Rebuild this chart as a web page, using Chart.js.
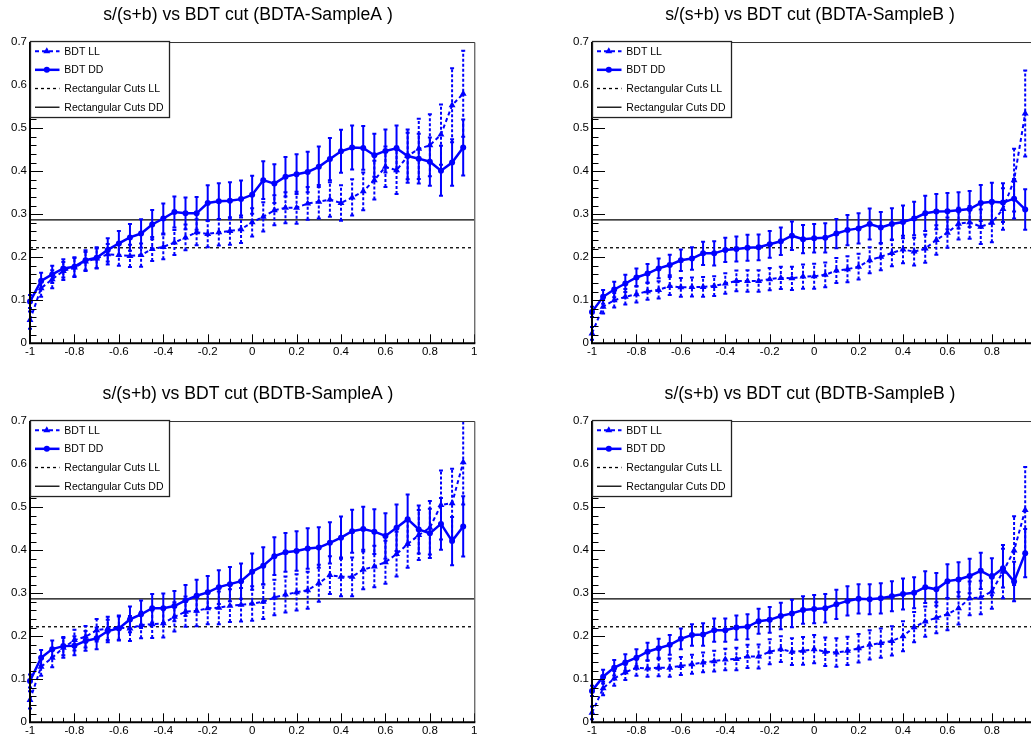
<!DOCTYPE html>
<html>
<head>
<meta charset="utf-8">
<title>s/(s+b) vs BDT cut</title>
<script src="https://cdn.jsdelivr.net/npm/chart.js@4.4.1/dist/chart.umd.min.js"></script>
<style>
  html, body { margin: 0; padding: 0; background: #fff; }
  body { width: 1031px; height: 738px; overflow: hidden; position: relative; }
  canvas { position: absolute; }
</style>
</head>
<body>
<canvas id="pad1" width="494" height="364" style="left:0px;top:0px"></canvas>
<canvas id="pad2" width="504" height="364" style="left:562px;top:0px"></canvas>
<canvas id="pad3" width="494" height="364" style="left:0px;top:379px"></canvas>
<canvas id="pad4" width="504" height="364" style="left:562px;top:379px"></canvas>
<script>
(function () {
  'use strict';

  // BDT cut (x)
  const bdtCuts = [-1, -0.95, -0.9, -0.85, -0.8, -0.75, -0.7, -0.65, -0.6, -0.55,
    -0.5, -0.45, -0.4, -0.35, -0.3, -0.25, -0.2, -0.15, -0.1, -0.05,
    0, 0.05, 0.1, 0.15, 0.2, 0.25, 0.3, 0.35, 0.4, 0.45,
    0.5, 0.55, 0.6, 0.65, 0.7, 0.75, 0.8, 0.85, 0.9, 0.95];

  const xTickValues = [-1, -0.8, -0.6, -0.4, -0.2, 0, 0.2, 0.4, 0.6, 0.8, 1];
  const xTickLabels = ['-1', '-0.8', '-0.6', '-0.4', '-0.2', '0', '0.2', '0.4', '0.6', '0.8', '1'];
  const yTickValues = [0, 0.1, 0.2, 0.3, 0.4, 0.5, 0.6, 0.7];
  const yTickLabels = ['0', '0.1', '0.2', '0.3', '0.4', '0.5', '0.6', '0.7'];

  // rectangular cuts reference
  const rectCutLL = 0.222;
  const rectCutDD = 0.287;

  const legendLabels = ['BDT LL', 'BDT DD', 'Rectangular Cuts LL', 'Rectangular Cuts DD'];

  // BDTA-SampleA
  const aA_DD = [0.097, 0.145, 0.16, 0.174, 0.178, 0.193, 0.199, 0.217, 0.232, 0.246,
    0.255, 0.276, 0.29, 0.305, 0.302, 0.302, 0.326, 0.33, 0.331, 0.335,
    0.345, 0.379, 0.371, 0.387, 0.393, 0.398, 0.41, 0.428, 0.446, 0.455,
    0.454, 0.437, 0.447, 0.453, 0.435, 0.429, 0.422, 0.401, 0.42, 0.455];
  const aA_DDErr = [0.015, 0.019, 0.02, 0.021, 0.022, 0.023, 0.024, 0.027, 0.029, 0.031,
    0.033, 0.034, 0.035, 0.036, 0.037, 0.038, 0.041, 0.042, 0.043, 0.043,
    0.044, 0.044, 0.045, 0.046, 0.046, 0.047, 0.047, 0.049, 0.05, 0.051,
    0.051, 0.05, 0.05, 0.053, 0.062, 0.058, 0.056, 0.058, 0.054, 0.065];
  const aA_LL = [0.054, 0.128, 0.149, 0.168, 0.176, 0.19, 0.197, 0.207, 0.205, 0.203,
    0.205, 0.219, 0.224, 0.234, 0.246, 0.258, 0.254, 0.258, 0.261, 0.265,
    0.281, 0.294, 0.309, 0.315, 0.315, 0.325, 0.329, 0.334, 0.326, 0.339,
    0.353, 0.379, 0.41, 0.402, 0.435, 0.452, 0.46, 0.485, 0.553, 0.58];
  const aA_LLErr = [0.02, 0.02, 0.021, 0.021, 0.022, 0.022, 0.023, 0.024, 0.025, 0.026,
    0.027, 0.028, 0.029, 0.029, 0.03, 0.03, 0.031, 0.031, 0.032, 0.032,
    0.033, 0.034, 0.035, 0.036, 0.037, 0.038, 0.039, 0.04, 0.041, 0.042,
    0.044, 0.045, 0.047, 0.055, 0.054, 0.07, 0.072, 0.07, 0.086, 0.1];

  // BDTA-SampleB
  const aB_DD = [0.073, 0.108, 0.125, 0.139, 0.153, 0.162, 0.174, 0.182, 0.193, 0.197,
    0.209, 0.209, 0.217, 0.219, 0.222, 0.223, 0.23, 0.237, 0.25, 0.242,
    0.244, 0.245, 0.255, 0.263, 0.267, 0.277, 0.269, 0.277, 0.282, 0.29,
    0.302, 0.306, 0.307, 0.309, 0.312, 0.326, 0.329, 0.327, 0.336, 0.311];
  const aB_DDErr = [0.012, 0.016, 0.018, 0.02, 0.021, 0.022, 0.023, 0.024, 0.025, 0.026,
    0.027, 0.028, 0.028, 0.029, 0.03, 0.03, 0.031, 0.032, 0.033, 0.033,
    0.033, 0.034, 0.034, 0.035, 0.035, 0.036, 0.036, 0.037, 0.038, 0.039,
    0.041, 0.041, 0.042, 0.042, 0.042, 0.042, 0.044, 0.045, 0.046, 0.047];
  const aB_LL = [0.023, 0.085, 0.1, 0.108, 0.114, 0.121, 0.124, 0.133, 0.13, 0.131,
    0.131, 0.133, 0.139, 0.145, 0.145, 0.145, 0.149, 0.152, 0.151, 0.155,
    0.156, 0.159, 0.169, 0.172, 0.178, 0.193, 0.201, 0.21, 0.218, 0.213,
    0.22, 0.24, 0.257, 0.278, 0.281, 0.271, 0.28, 0.312, 0.379, 0.534];
  const aB_LLErr = [0.015, 0.016, 0.017, 0.018, 0.019, 0.02, 0.02, 0.021, 0.022, 0.022,
    0.023, 0.023, 0.024, 0.024, 0.025, 0.025, 0.026, 0.026, 0.027, 0.028,
    0.029, 0.029, 0.029, 0.03, 0.03, 0.03, 0.031, 0.031, 0.032, 0.032,
    0.033, 0.034, 0.035, 0.037, 0.038, 0.04, 0.045, 0.048, 0.073, 0.1];

  // BDTB-SampleA
  const bA_DD = [0.096, 0.15, 0.17, 0.177, 0.178, 0.189, 0.195, 0.212, 0.218, 0.239,
    0.251, 0.265, 0.265, 0.27, 0.283, 0.294, 0.302, 0.314, 0.321, 0.328,
    0.35, 0.364, 0.386, 0.395, 0.398, 0.404, 0.406, 0.417, 0.429, 0.444,
    0.449, 0.443, 0.433, 0.452, 0.472, 0.448, 0.439, 0.461, 0.421, 0.455];
  const bA_DDErr = [0.015, 0.018, 0.02, 0.021, 0.022, 0.023, 0.025, 0.026, 0.028, 0.03,
    0.032, 0.033, 0.034, 0.035, 0.036, 0.037, 0.038, 0.039, 0.04, 0.041,
    0.042, 0.043, 0.044, 0.045, 0.046, 0.047, 0.047, 0.048, 0.049, 0.05,
    0.052, 0.052, 0.053, 0.054, 0.057, 0.056, 0.057, 0.06, 0.056, 0.07];
  const bA_LL = [0.052, 0.129, 0.15, 0.173, 0.191, 0.199, 0.214, 0.218, 0.22, 0.218,
    0.226, 0.228, 0.23, 0.245, 0.257, 0.259, 0.265, 0.266, 0.271, 0.273,
    0.276, 0.28, 0.29, 0.297, 0.302, 0.307, 0.323, 0.342, 0.338, 0.338,
    0.355, 0.362, 0.372, 0.391, 0.414, 0.435, 0.452, 0.505, 0.509, 0.604];
  const bA_LLErr = [0.02, 0.021, 0.022, 0.023, 0.024, 0.025, 0.026, 0.027, 0.028, 0.029,
    0.031, 0.032, 0.033, 0.034, 0.035, 0.036, 0.037, 0.038, 0.038, 0.039,
    0.04, 0.04, 0.041, 0.042, 0.042, 0.043, 0.043, 0.044, 0.045, 0.045,
    0.046, 0.048, 0.05, 0.052, 0.055, 0.058, 0.062, 0.08, 0.08, 0.098];

  // BDTB-SampleB
  const bB_DD = [0.073, 0.106, 0.127, 0.139, 0.15, 0.164, 0.172, 0.18, 0.194, 0.203,
    0.204, 0.214, 0.214, 0.22, 0.222, 0.235, 0.238, 0.247, 0.253, 0.261,
    0.263, 0.265, 0.274, 0.282, 0.287, 0.286, 0.288, 0.293, 0.298, 0.301,
    0.314, 0.309, 0.328, 0.332, 0.34, 0.352, 0.338, 0.358, 0.327, 0.393];
  const bB_DDErr = [0.012, 0.016, 0.018, 0.019, 0.02, 0.021, 0.022, 0.023, 0.024, 0.025,
    0.026, 0.027, 0.027, 0.028, 0.029, 0.029, 0.03, 0.031, 0.032, 0.032,
    0.033, 0.033, 0.034, 0.034, 0.034, 0.035, 0.035, 0.035, 0.036, 0.036,
    0.037, 0.038, 0.039, 0.04, 0.04, 0.042, 0.043, 0.045, 0.046, 0.056];
  const bB_LL = [0.022, 0.079, 0.102, 0.116, 0.127, 0.125, 0.127, 0.127, 0.131, 0.135,
    0.139, 0.142, 0.146, 0.147, 0.153, 0.153, 0.164, 0.17, 0.164, 0.166,
    0.17, 0.164, 0.162, 0.166, 0.172, 0.18, 0.184, 0.189, 0.2, 0.221,
    0.234, 0.243, 0.251, 0.265, 0.288, 0.29, 0.304, 0.35, 0.399, 0.493];
  const bB_LLErr = [0.015, 0.016, 0.017, 0.018, 0.019, 0.019, 0.02, 0.021, 0.021, 0.022,
    0.023, 0.024, 0.025, 0.026, 0.027, 0.028, 0.029, 0.03, 0.031, 0.032,
    0.033, 0.033, 0.033, 0.033, 0.033, 0.034, 0.034, 0.034, 0.035, 0.035,
    0.035, 0.036, 0.037, 0.038, 0.039, 0.039, 0.04, 0.062, 0.08, 0.1];

  const BLUE = 'rgb(0, 0, 255)';
  const FONT = '"Liberation Sans", Arial, Helvetica, sans-serif';

  Chart.defaults.font.family = FONT;
  Chart.defaults.color = '#000';

  function toPoints(values) {
    return bdtCuts.map((x, i) => ({ x: x, y: values[i] }));
  }

  function flatLine(value) {
    return [{ x: xTickValues[0], y: value }, { x: xTickValues[xTickValues.length - 1], y: value }];
  }

  // error bars, drawn right after their own dataset
  const errorBarPlugin = {
    id: 'errorBars',
    afterDatasetDraw(chart, args) {
      const ds = chart.data.datasets[args.index];
      if (!ds.errors) return;
      const { ctx, chartArea: a } = chart;
      const xs = chart.scales.x, ys = chart.scales.y;
      ctx.save();
      ctx.beginPath();
      ctx.rect(a.left - 5, a.top, a.right - a.left + 10, a.bottom - a.top);
      ctx.clip();
      ctx.strokeStyle = ds.borderColor;
      ctx.lineWidth = 2;
      ctx.setLineDash(ds.errorDash || []);
      ds.data.forEach((p, i) => {
        const e = ds.errors[i];
        const px = xs.getPixelForValue(p.x);
        ctx.beginPath();
        ctx.moveTo(px, ys.getPixelForValue(p.y - e));
        ctx.lineTo(px, ys.getPixelForValue(p.y + e));
        ctx.stroke();
      });
      ctx.setLineDash([]);
      ds.data.forEach((p, i) => {
        const e = ds.errors[i];
        const px = xs.getPixelForValue(p.x);
        [p.y - e, p.y + e].forEach(v => {
          const py = ys.getPixelForValue(v);
          ctx.beginPath();
          ctx.moveTo(px - 2, py);
          ctx.lineTo(px + 2, py);
          ctx.stroke();
        });
      });
      ctx.restore();
    }
  };

  function drawMarker(ctx, style, x, y, r) {
    ctx.beginPath();
    if (style === 'triangle') {
      ctx.moveTo(x, y - r);
      ctx.lineTo(x + r * 0.87, y + r * 0.5);
      ctx.lineTo(x - r * 0.87, y + r * 0.5);
      ctx.closePath();
    } else {
      ctx.arc(x, y, r, 0, Math.PI * 2);
    }
    ctx.fill();
  }

  // ROOT-like frame: title offset, inner ticks, axis lines and the boxed legend
  const framePlugin = {
    id: 'rootFrame',
    afterLayout(chart) {
      const t = chart.titleBlock;
      const w = t.right - t.left;
      const c = chart.chartArea.left + 218;
      t.left = c - w / 2;
      t.right = c + w / 2;
    },
    afterDraw(chart) {
      const { ctx, chartArea: a } = chart;
      const xs = chart.scales.x, ys = chart.scales.y;
      ctx.save();
      ctx.strokeStyle = '#000';
      ctx.lineWidth = 1;
      ctx.beginPath();
      for (let i = 0; i < xTickValues.length; i++) {
        const px = Math.round(xs.getPixelForValue(xTickValues[i])) + 0.5;
        ctx.moveTo(px, a.bottom);
        ctx.lineTo(px, a.bottom - 9);
        if (i < xTickValues.length - 1) {
          const step = (xTickValues[i + 1] - xTickValues[i]) / 4;
          for (let k = 1; k < 4; k++) {
            const mx = Math.round(xs.getPixelForValue(xTickValues[i] + k * step)) + 0.5;
            ctx.moveTo(mx, a.bottom);
            ctx.lineTo(mx, a.bottom - 4.5);
          }
        }
      }
      for (let i = 0; i < yTickValues.length; i++) {
        const py = Math.round(ys.getPixelForValue(yTickValues[i])) + 0.5;
        ctx.moveTo(a.left, py);
        ctx.lineTo(a.left + 13, py);
        if (i < yTickValues.length - 1) {
          const step = (yTickValues[i + 1] - yTickValues[i]) / 5;
          for (let k = 1; k < 5; k++) {
            const my = Math.round(ys.getPixelForValue(yTickValues[i] + k * step)) + 0.5;
            ctx.moveTo(a.left, my);
            ctx.lineTo(a.left + 6.5, my);
          }
        }
      }
      ctx.stroke();

      // frame
      ctx.lineWidth = 1;
      ctx.strokeStyle = '#333';
      ctx.beginPath();
      ctx.moveTo(a.left, a.top + 0.5);
      ctx.lineTo(a.right + 0.5, a.top + 0.5);
      ctx.lineTo(a.right + 0.5, a.bottom);
      ctx.stroke();
      ctx.lineWidth = 2;
      ctx.strokeStyle = '#000';
      ctx.beginPath();
      ctx.moveTo(a.left, a.top);
      ctx.lineTo(a.left, a.bottom);
      ctx.lineTo(a.right + 1, a.bottom);
      ctx.stroke();

      // legend box
      const lx = a.left, ly = a.top - 1, lw = 139, lh = 76;
      ctx.fillStyle = '#fff';
      ctx.fillRect(lx, ly, lw, lh);
      ctx.lineWidth = 1.3;
      ctx.strokeStyle = '#222';
      ctx.strokeRect(lx + 0.5, ly + 0.5, lw, lh);

      const rows = [10.3, 28.8, 47.5, 66.2];
      const entries = [chart.data.datasets[1], chart.data.datasets[0], chart.data.datasets[3], chart.data.datasets[2]];
      ctx.font = '10.5px ' + FONT;
      ctx.textBaseline = 'middle';
      ctx.textAlign = 'left';
      entries.forEach((ds, i) => {
        const y = ly + rows[i];
        ctx.strokeStyle = ds.borderColor;
        ctx.lineWidth = ds.borderWidth;
        ctx.setLineDash(ds.borderDash || []);
        ctx.beginPath();
        ctx.moveTo(lx + 5, y);
        ctx.lineTo(lx + 29.5, y);
        ctx.stroke();
        ctx.setLineDash([]);
        if (ds.pointRadius) {
          ctx.fillStyle = ds.borderColor;
          drawMarker(ctx, ds.pointStyle, lx + 16.8, y, ds.pointRadius);
        }
        ctx.fillStyle = '#000';
        ctx.fillText(legendLabels[i], lx + 34.3, y + 0.5);
      });
      ctx.restore();
    }
  };

  function makePad(canvasId, titleText, ddValues, ddErrors, llValues, llErrors, rightPad) {
    const ctx = document.getElementById(canvasId).getContext('2d');
    return new Chart(ctx, {
      type: 'line',
      data: {
        datasets: [
          {
            label: legendLabels[1],
            data: toPoints(ddValues),
            errors: ddErrors,
            borderColor: BLUE,
            backgroundColor: BLUE,
            borderWidth: 2.5,
            pointStyle: 'circle',
            pointRadius: 3,
            pointBorderWidth: 0,
            tension: 0,
            clip: 8
          },
          {
            label: legendLabels[0],
            data: toPoints(llValues),
            errors: llErrors,
            errorDash: [3, 2],
            borderColor: BLUE,
            backgroundColor: BLUE,
            borderWidth: 2,
            borderDash: [4, 3],
            pointStyle: 'triangle',
            pointRadius: 4,
            pointBorderWidth: 0,
            tension: 0,
            clip: 8
          },
          {
            label: legendLabels[3],
            data: flatLine(rectCutDD),
            borderColor: '#000',
            borderWidth: 1.3,
            pointRadius: 0
          },
          {
            label: legendLabels[2],
            data: flatLine(rectCutLL),
            borderColor: '#000',
            borderWidth: 1.3,
            borderDash: [3, 3],
            pointRadius: 0
          }
        ]
      },
      options: {
        responsive: false,
        animation: false,
        devicePixelRatio: 1,
        events: [],
        layout: { padding: { left: 0, right: rightPad, top: 0, bottom: 0 } },
        plugins: {
          legend: { display: false },
          tooltip: { enabled: false },
          title: {
            display: true,
            text: titleText,
            color: '#000',
            font: { family: FONT, size: 17.6, weight: 'normal' },
            padding: { top: 4.3, bottom: 16.6 }
          }
        },
        scales: {
          x: {
            type: 'linear',
            min: -1,
            max: 1,
            grid: { display: false, drawTicks: false },
            border: { display: false },
            afterBuildTicks: s => { s.ticks = xTickValues.map(v => ({ value: v })); },
            afterFit: s => { s.height = 20.7; },
            ticks: {
              padding: 2,
              maxRotation: 0,
              autoSkip: false,
              font: { family: FONT, size: 11.5 },
              callback: (v, i) => xTickLabels[i]
            }
          },
          y: {
            type: 'linear',
            min: 0,
            max: 0.7,
            grid: { display: false, drawTicks: false },
            border: { display: false },
            afterBuildTicks: s => { s.ticks = yTickValues.map(v => ({ value: v })); },
            afterFit: s => { s.width = 30; },
            ticks: {
              padding: 3,
              autoSkip: false,
              font: { family: FONT, size: 11.5 },
              callback: (v, i) => yTickLabels[i]
            }
          }
        }
      },
      plugins: [errorBarPlugin, framePlugin]
    });
  }

  makePad('pad1', 's/(s+b) vs BDT cut (BDTA-SampleA )', aA_DD, aA_DDErr, aA_LL, aA_LLErr, 19.7);
  makePad('pad2', 's/(s+b) vs BDT cut (BDTA-SampleB )', aB_DD, aB_DDErr, aB_LL, aB_LLErr, 29.7);
  makePad('pad3', 's/(s+b) vs BDT cut (BDTB-SampleA )', bA_DD, bA_DDErr, bA_LL, bA_LLErr, 19.7);
  makePad('pad4', 's/(s+b) vs BDT cut (BDTB-SampleB )', bB_DD, bB_DDErr, bB_LL, bB_LLErr, 29.7);
})();
</script>
</body>
</html>
